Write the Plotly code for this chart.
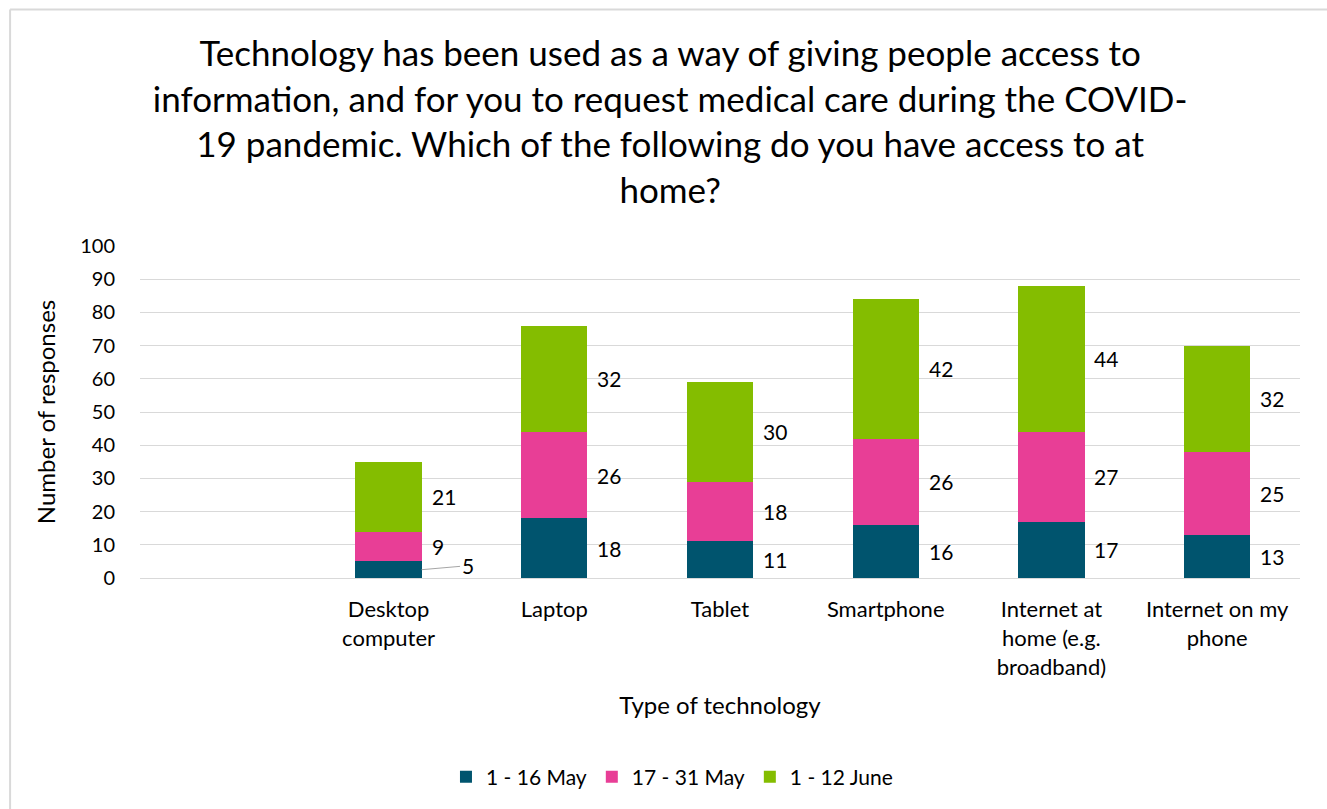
import plotly.graph_objects as go

categories = [" ", "Desktop<br>computer", "Laptop", "Tablet", "Smartphone",
              "Internet at<br>home (e.g.<br>broadband)", "Internet on my<br>phone"]
series_names = ["1 - 16 May", "17 - 31 May", "1 - 12 June"]
may_1_16 = [None, 5, 18, 11, 16, 17, 13]
may_17_31 = [None, 9, 26, 18, 26, 27, 25]
june_1_12 = [None, 21, 32, 30, 42, 44, 32]
colors = ["#00546E", "#E83E96", "#84BD00"]

FONT = "Lato"
series = [may_1_16, may_17_31, june_1_12]

fig = go.Figure()
for name, vals, col in zip(series_names, series, colors):
    fig.add_trace(go.Bar(x=categories, y=vals, name=name, marker_color=col,
                         marker_line_width=0))

annotations = []
for i, cat in enumerate(categories):
    base = 0
    for k, vals in enumerate(series):
        v = vals[i]
        if v is None:
            continue
        mid = base + v / 2
        if cat.startswith("Desktop") and k == 0:
            annotations.append(dict(x=cat, y=mid, xref="x", yref="y", text=str(v),
                                    showarrow=True, arrowhead=0, arrowwidth=1,
                                    arrowcolor="#A6A6A6", xshift=33, ax=46, ay=-4,
                                    standoff=0, startstandoff=0,
                                    font=dict(family=FONT, size=21, color="#000")))
        else:
            annotations.append(dict(x=cat, y=mid, xref="x", yref="y", text=str(v),
                                    showarrow=False, xanchor="left", xshift=41,
                                    font=dict(family=FONT, size=21, color="#000")))
        base += v

fig.update_layout(
    barmode="stack",
    bargap=0.6,
    width=1327, height=809,
    margin=dict(l=140, r=27, t=246, b=231, autoexpand=False),
    paper_bgcolor="white", plot_bgcolor="white",
    font=dict(family=FONT, size=20, color="#000"),
    title=dict(text="Technology has been used as a way of giving people access to<br>"
                    "information, and for you to request medical care during the COVID-<br>"
                    "19 pandemic. Which of the following do you have access to at<br>home?",
               x=0.505, xanchor="center", y=1 - 66 / 809, yanchor="middle",
               yref="container",
               font=dict(family=FONT, size=35, color="#000")),
    xaxis=dict(title=dict(text="Type of technology", font=dict(size=24), standoff=18),
               tickfont=dict(size=22), showline=True, linecolor="#D9D9D9",
               linewidth=1, ticks="", ticklabelstandoff=12, tickangle=0),
    yaxis=dict(title=dict(text="Number of responses", font=dict(size=24), standoff=17),
               range=[0, 100], dtick=10, tickfont=dict(size=20),
               gridcolor="#D9D9D9", gridwidth=1, zeroline=False, ticks="",
               ticklabelstandoff=24),
    legend=dict(orientation="h", x=0.4586, xanchor="center",
                y=-0.6, yanchor="middle",
                font=dict(size=21), traceorder="normal", itemwidth=30),
    annotations=annotations,
    shapes=[dict(type="line", xref="paper", yref="paper",
                 x0=-0.112, x1=1.1, y0=1.712, y1=1.712,
                 line=dict(color="#D9D9D9", width=2)),
            dict(type="line", xref="paper", yref="paper",
                 x0=-0.112, x1=-0.112, y0=1.712, y1=-0.75,
                 line=dict(color="#D9D9D9", width=2))],
)

fig.write_html("out.html")
